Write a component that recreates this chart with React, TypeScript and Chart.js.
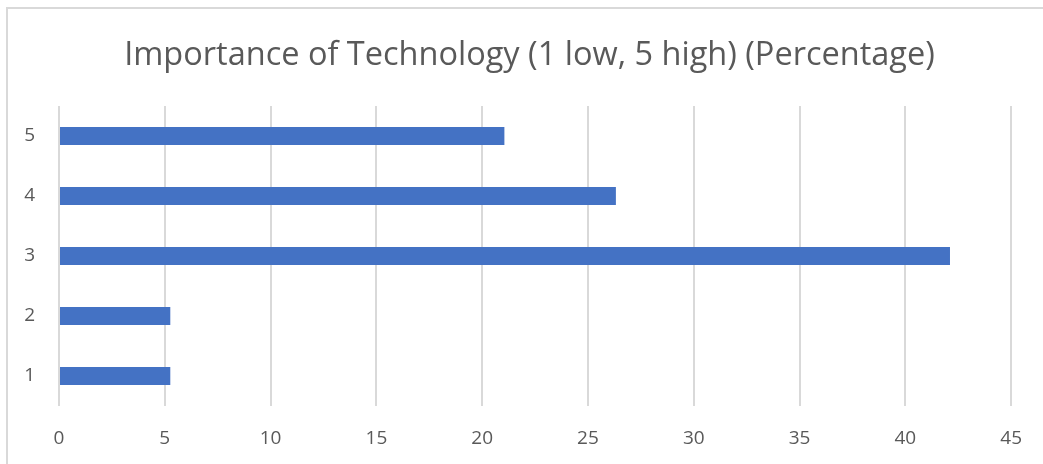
import React, { useEffect, useRef } from "react";
import { Chart, registerables } from "chart.js";

Chart.register(...registerables);

const categories = ["1", "2", "3", "4", "5"];
const percentages = [5.26, 5.26, 42.11, 26.32, 21.05];
const titleText = "Importance of Technology (1 low, 5 high) (Percentage)";
const xMin = 0;
const xMax = 45;
const xStep = 5;

const FONT = "'Open Sans', sans-serif";
const TEXT = "#595959";

// Centre the title over the whole chart box rather than the padded layout box.
const titleShift = {
  id: "titleShift",
  afterLayout(chart: any) {
    if (chart.titleBlock) {
      chart.titleBlock.left = 46;
    }
  },
};

export default function App() {
  const ref = useRef<HTMLCanvasElement | null>(null);

  useEffect(() => {
    if (!ref.current) return;
    const chart = new Chart(ref.current, {
      type: "bar",
      data: {
        labels: categories,
        datasets: [
          {
            data: percentages,
            backgroundColor: "#4472C4",
            borderWidth: 0,
            barPercentage: 0.3,
            categoryPercentage: 1,
          },
        ],
      },
      plugins: [titleShift],
      options: {
        indexAxis: "y",
        animation: false,
        responsive: false,
        maintainAspectRatio: false,
        devicePixelRatio: 1,
        layout: { padding: { left: 0, right: 30, top: 0, bottom: 0 } },
        plugins: {
          legend: { display: false },
          tooltip: { enabled: false },
          title: {
            display: true,
            text: titleText,
            color: TEXT,
            font: { family: FONT, size: 32.5, weight: "normal", lineHeight: 1.2 },
            padding: { top: 36, bottom: 31 },
          },
        },
        scales: {
          x: {
            min: xMin,
            max: xMax,
            ticks: {
              stepSize: xStep,
              color: TEXT,
              font: { family: FONT, size: 19 },
              padding: 21,
            },
            grid: { color: "#d9d9d9", lineWidth: 2, drawTicks: false },
            border: { display: false },
            afterFit: (s: any) => {
              s.height = 58;
            },
          },
          y: {
            reverse: true,
            ticks: {
              color: TEXT,
              font: { family: FONT, size: 19 },
              padding: 24,
            },
            grid: { display: false, drawTicks: false },
            border: { display: false },
            afterFit: (s: any) => {
              s.width = 59;
            },
          },
        },
      },
    });
    return () => chart.destroy();
  }, []);

  return (
    <div
      style={{
        position: "absolute",
        left: 0,
        top: 0,
        width: 1043,
        height: 464,
        overflow: "hidden",
        background: "#fff",
      }}
    >
      <div
        style={{
          position: "absolute",
          left: 6,
          top: 7,
          width: 1100,
          height: 520,
          border: "2px solid #d9d9d9",
          boxSizing: "border-box",
        }}
      />
      <canvas
        ref={ref}
        width={1043}
        height={464}
        style={{ position: "absolute", left: 0, top: 0, width: 1043, height: 464 }}
      />
    </div>
  );
}
